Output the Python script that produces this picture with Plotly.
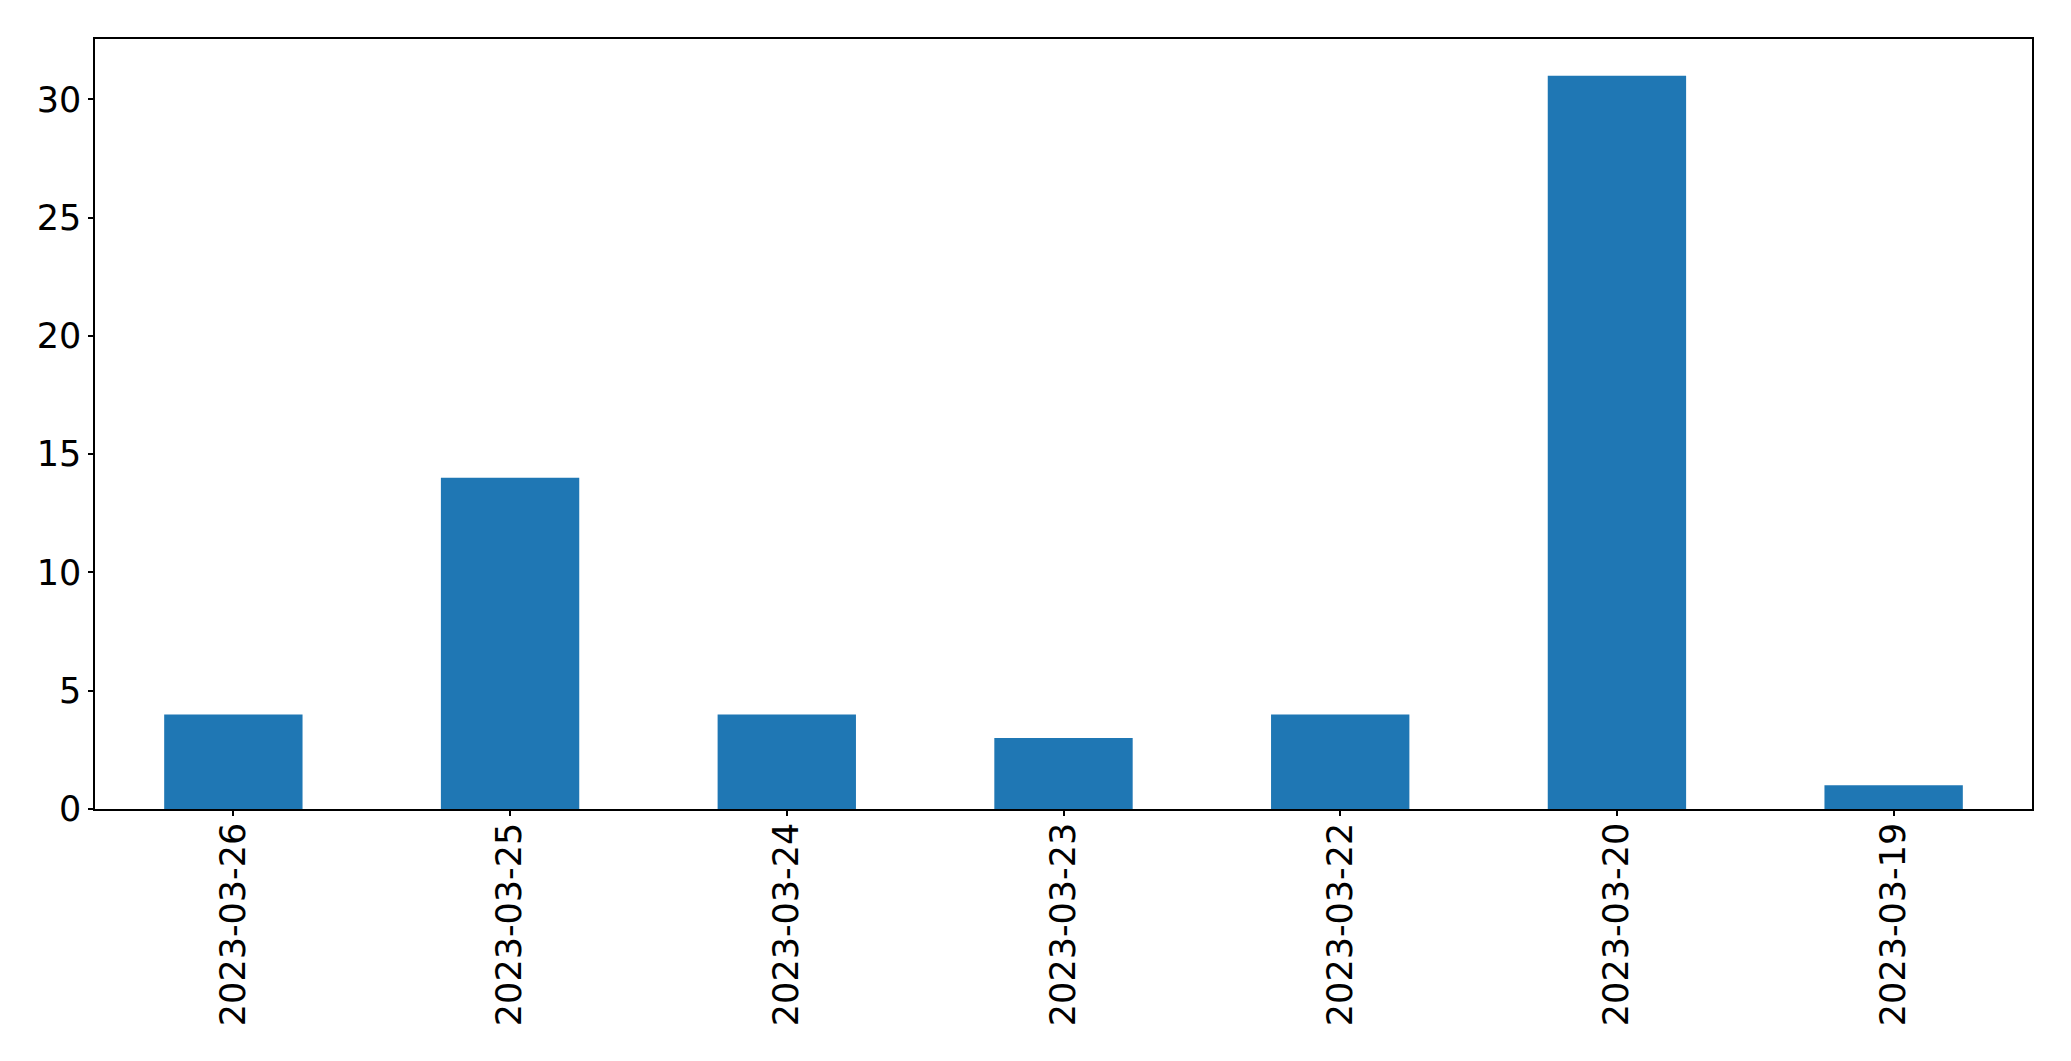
import plotly.graph_objects as go

dates = ["2023-03-26", "2023-03-25", "2023-03-24", "2023-03-23", "2023-03-22", "2023-03-20", "2023-03-19"]
counts = [4, 14, 4, 3, 4, 31, 1]
y_ticks = [0, 5, 10, 15, 20, 25, 30]

fig = go.Figure(go.Bar(x=dates, y=counts, width=0.5, marker=dict(color="#1f77b4", line=dict(width=0))))

font = dict(family="DejaVu Sans", size=35, color="black")
# page body has an 8px default margin; compensate so the axes land at the reference positions
fig.update_layout(
    width=2055, height=1045, autosize=False,
    margin=dict(l=86.7, r=31.3, t=31.3, b=244),
    paper_bgcolor="white", plot_bgcolor="white",
    showlegend=False, font=font,
)
fig.update_xaxes(
    type="category", range=[-0.5, 6.5], tickangle=-90,
    showline=True, linecolor="black", linewidth=1.5, mirror=True,
    ticks="outside", ticklen=5, tickwidth=1.5, tickcolor="black",
    showgrid=False, zeroline=False, tickfont=font, ticklabelstandoff=-7,
)
fig.update_yaxes(
    range=[0, 32.55], tickvals=y_ticks,
    showline=True, linecolor="black", linewidth=1.5, mirror=True,
    ticks="outside", ticklen=5, tickwidth=1.5, tickcolor="black",
    showgrid=False, zeroline=False, tickfont=font, ticklabelstandoff=0,
)
fig.write_html("out.html")
